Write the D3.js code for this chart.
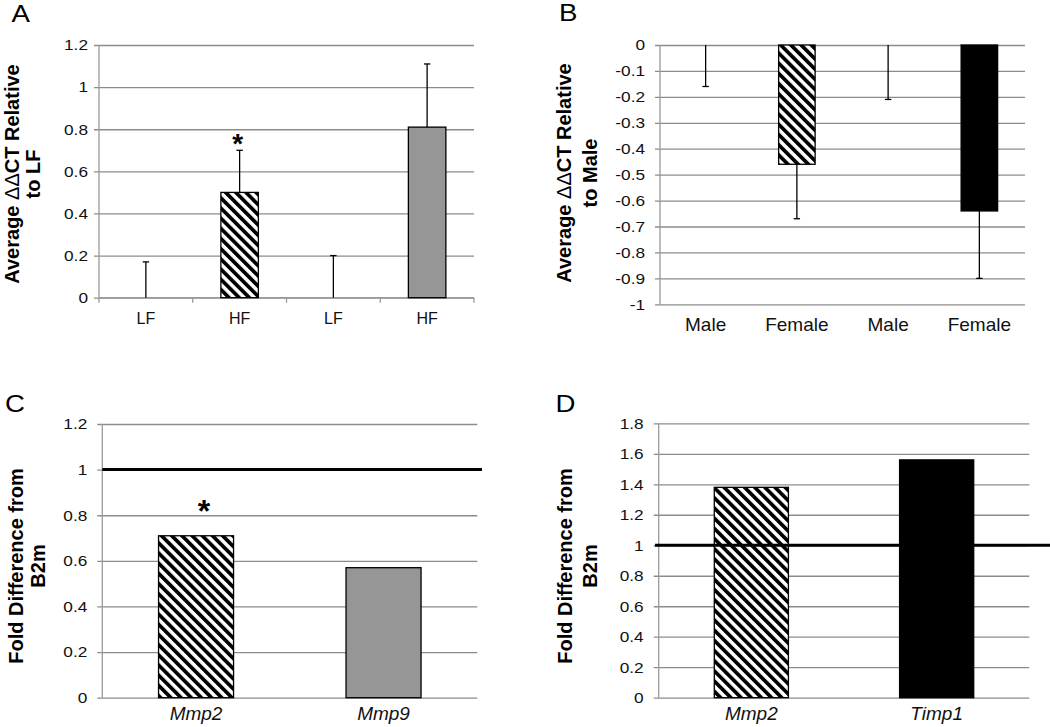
<!DOCTYPE html>
<html>
<head>
<meta charset="utf-8">
<script src="https://cdn.jsdelivr.net/npm/d3@7"></script>
<style>
  html, body { margin: 0; padding: 0; background: #fff; }
  svg { display: block; font-family: "Liberation Sans", Arial, Helvetica, sans-serif; }
</style>
</head>
<body>
<svg id="chart" width="1050" height="727"></svg>
<script>
// ---------------- DATA ----------------
// Panel A
const catsA = ["LF", "HF", "LF", "HF"];
const valsA = [0, 0.5, 0, 0.81];
const errA = [0.17, 0.2, 0.2, 0.3];
const fillA = ["none", "hatch", "none", "gray"];
const sigA = [false, true, false, false];
const ticksA = [0, 0.2, 0.4, 0.6, 0.8, 1, 1.2];

// Panel B
const catsB = ["Male", "Female", "Male", "Female"];
const valsB = [0, -0.46, 0, -0.64];
const errB = [0.16, 0.21, 0.21, 0.26];
const fillB = ["none", "hatch", "none", "black"];
const sigB = [false, false, false, false];
const ticksB = [0, -0.1, -0.2, -0.3, -0.4, -0.5, -0.6, -0.7, -0.8, -0.9, -1];

// Panel C
const catsC = ["Mmp2", "Mmp9"];
const valsC = [0.71, 0.57];
const fillC = ["hatch", "gray"];
const sigC = [true, false];
const refC = 1;
const ticksC = [0, 0.2, 0.4, 0.6, 0.8, 1, 1.2];

// Panel D
const catsD = ["Mmp2", "Timp1"];
const valsD = [1.38, 1.56];
const fillD = ["hatch", "black"];
const sigD = [false, false];
const refD = 1;
const ticksD = [0, 0.2, 0.4, 0.6, 0.8, 1, 1.2, 1.4, 1.6, 1.8];

// ---------------- STYLE ----------------
const GRID = "#8c8c8c";
const AXIS = "#9a9a9a";
const GRAYBAR = "#969696";
const SX = 1.15; // horizontal stretch of the original's tick labels

const svg = d3.select("#chart");
svg.append("rect").attr("width", 1050).attr("height", 727).attr("fill", "#fff");

const defs = svg.append("defs");
const pat = defs.append("pattern")
  .attr("id", "hatch")
  .attr("patternUnits", "userSpaceOnUse")
  .attr("width", 7.2).attr("height", 7.2)
  .attr("patternTransform", "rotate(-45)");
pat.append("rect").attr("width", 7.2).attr("height", 7.2).attr("fill", "#fff");
pat.append("rect").attr("width", 3.7).attr("height", 7.2).attr("fill", "#000");

const fmt = d => String(+(+d).toFixed(1));

function fillOf(f) {
  if (f === "hatch") return "url(#hatch)";
  if (f === "gray") return GRAYBAR;
  if (f === "black") return "#000";
  return "none";
}

function panel(cfg) {
  const g = svg.append("g");
  const y = d3.scaleLinear().domain(cfg.domain).range([cfg.yBot, cfg.yTop]);
  const x = d3.scaleBand().domain(d3.range(cfg.labels.length))
    .range([cfg.x0, cfg.x1]).paddingInner(0.6).paddingOuter(0.3);

  // gridlines + y ticks via d3 axis
  const yAxis = d3.axisLeft(y).tickValues(cfg.ticks).tickFormat(fmt)
    .tickSize(-(cfg.x1 - cfg.x0)).tickPadding(cfg.tickGap);
  const ya = g.append("g").attr("transform", `translate(${cfg.x0},0)`).call(yAxis);
  ya.select(".domain").remove();
  ya.selectAll(".tick line").attr("x1", -5).attr("stroke", GRID).attr("stroke-width", 1.3);
  ya.selectAll(".tick text")
    .attr("font-size", cfg.tickFont).attr("fill", "#111")
    .attr("font-family", '"Liberation Sans", Arial, sans-serif')
    .attr("x", -cfg.tickGap / SX)
    .attr("transform", `scale(${SX},1)`);

  // y axis line
  g.append("line").attr("x1", cfg.x0).attr("x2", cfg.x0)
    .attr("y1", d3.min(y.range())).attr("y2", d3.max(y.range()))
    .attr("stroke", AXIS).attr("stroke-width", 1.3);

  // category boundary ticks (panel A)
  if (cfg.xTicks) {
    const yb = y(0);
    g.append("line").attr("x1", cfg.x0).attr("x2", cfg.x1).attr("y1", yb).attr("y2", yb)
      .attr("stroke", AXIS).attr("stroke-width", 1.3);
    g.selectAll(".xt").data(d3.range(cfg.labels.length + 1)).join("line")
      .attr("x1", i => cfg.x0 + i * x.step()).attr("x2", i => cfg.x0 + i * x.step())
      .attr("y1", yb).attr("y2", yb + 5)
      .attr("stroke", AXIS).attr("stroke-width", 1.3);
  }

  // bars
  const idx = d3.range(cfg.labels.length);
  g.selectAll(".bar").data(idx.filter(i => cfg.fills[i] !== "none")).join("rect")
    .attr("x", i => x(i)).attr("width", x.bandwidth())
    .attr("y", i => Math.min(y(cfg.vals[i]), y(0)))
    .attr("height", i => Math.abs(y(cfg.vals[i]) - y(0)))
    .attr("fill", i => fillOf(cfg.fills[i]))
    .attr("stroke", "#000").attr("stroke-width", 1.3);

  // error bars
  if (cfg.errs) {
    const cx = i => x(i) + x.bandwidth() / 2;
    const end = i => cfg.vals[i] + cfg.errDir * cfg.errs[i];
    g.selectAll(".err").data(idx).join("line")
      .attr("x1", cx).attr("x2", cx)
      .attr("y1", i => y(cfg.vals[i])).attr("y2", i => y(end(i)))
      .attr("stroke", "#000").attr("stroke-width", 1.3);
    g.selectAll(".cap").data(idx).join("line")
      .attr("x1", i => cx(i) - 3.2).attr("x2", i => cx(i) + 3.2)
      .attr("y1", i => y(end(i))).attr("y2", i => y(end(i)))
      .attr("stroke", "#000").attr("stroke-width", 1.3);
  }

  // reference line
  if (cfg.ref !== undefined) {
    g.append("line").attr("x1", cfg.refX0).attr("x2", cfg.refX1)
      .attr("y1", y(cfg.ref)).attr("y2", y(cfg.ref))
      .attr("stroke", "#000").attr("stroke-width", 3);
  }

  // significance stars
  g.selectAll(".star").data(idx.filter(i => cfg.sig[i])).join("text")
    .attr("x", i => x(i) + x.bandwidth() / 2 + cfg.starDx)
    .attr("y", i => {
      const top = cfg.errs ? cfg.vals[i] + cfg.errs[i] : cfg.vals[i];
      return y(top) - cfg.starGap + cfg.starSize * 0.58;
    })
    .attr("text-anchor", "middle").attr("font-weight", "bold")
    .attr("font-size", cfg.starSize).text("*");

  // category labels
  g.selectAll(".lab").data(idx).join("text")
    .attr("x", i => x(i) + x.bandwidth() / 2)
    .attr("y", cfg.labelY)
    .attr("text-anchor", "middle")
    .attr("font-size", cfg.labelFont)
    .attr("font-style", cfg.italic ? "italic" : "normal")
    .attr("fill", "#111")
    .text(i => cfg.labels[i]);

  // y-axis title (two lines, rotated)
  const t1 = g.append("text")
    .attr("transform", `translate(${cfg.titleX[0]},${cfg.titleY}) rotate(-90)`)
    .attr("text-anchor", "middle").attr("font-size", cfg.titleFont).attr("font-weight", "bold");
  cfg.title1.forEach(p => {
    t1.append("tspan").attr("font-weight", p.w || "bold").text(p.t);
  });
  g.append("text")
    .attr("transform", `translate(${cfg.titleX[1]},${cfg.titleY}) rotate(-90)`)
    .attr("text-anchor", "middle").attr("font-size", cfg.titleFont).attr("font-weight", "bold")
    .text(cfg.title2);

  // panel letter
  g.append("text").attr("x", cfg.letterX / SX).attr("y", cfg.letterY)
    .attr("transform", `scale(${SX},1)`)
    .attr("font-size", 24).text(cfg.letter);
}

const titleDD = (tail) => [{t: "Average "}, {t: "ΔΔ", w: "normal"}, {t: tail}];

panel({
  x0: 99, x1: 474, yTop: 45, yBot: 297.7, domain: [0, 1.2], ticks: ticksA,
  labels: catsA, vals: valsA, errs: errA, errDir: 1, fills: fillA, sig: sigA,
  xTicks: true, tickFont: 15, tickGap: 11, labelFont: 16, labelY: 323.5,
  starDx: -2, starGap: 13.5, starSize: 28,
  title1: titleDD("CT Relative"), title2: "to LF", titleFont: 20,
  titleX: [18.5, 40], titleY: 174, letter: "A", letterX: 11.5, letterY: 22
});

panel({
  x0: 660, x1: 1025, yTop: 45, yBot: 304.3, domain: [-1, 0], ticks: ticksB,
  labels: catsB, vals: valsB, errs: errB, errDir: -1, fills: fillB, sig: sigB,
  xTicks: false, tickFont: 15, tickGap: 15, labelFont: 19, labelY: 331,
  starDx: 0, starGap: 10, starSize: 28,
  title1: titleDD("CT Relative"), title2: "to Male", titleFont: 20,
  titleX: [570.5, 596.5], titleY: 173, letter: "B", letterX: 559, letterY: 21.5
});

panel({
  x0: 102.3, x1: 477.3, yTop: 424, yBot: 697.7, domain: [0, 1.2], ticks: ticksC,
  labels: catsC, vals: valsC, fills: fillC, sig: sigC,
  ref: refC, refX0: 102.3, refX1: 482,
  xTicks: false, tickFont: 15, tickGap: 15, labelFont: 19, labelY: 720, italic: true,
  starDx: 8, starGap: 32, starSize: 32,
  title1: [{t: "Fold Difference from"}], title2: "B2m", titleFont: 20,
  titleX: [22.5, 45.3], titleY: 566, letter: "C", letterX: 5, letterY: 412
});

panel({
  x0: 658.7, x1: 1029.3, yTop: 423.3, yBot: 697.7, domain: [0, 1.8], ticks: ticksD,
  labels: catsD, vals: valsD, fills: fillD, sig: sigD,
  ref: refD, refX0: 655, refX1: 1050,
  xTicks: false, tickFont: 15, tickGap: 15, labelFont: 19, labelY: 720, italic: true,
  starDx: 0, starGap: 10, starSize: 28,
  title1: [{t: "Fold Difference from"}], title2: "B2m", titleFont: 20,
  titleX: [572, 596.6], titleY: 566, letter: "D", letterX: 555.5, letterY: 412
});
</script>
</body>
</html>
